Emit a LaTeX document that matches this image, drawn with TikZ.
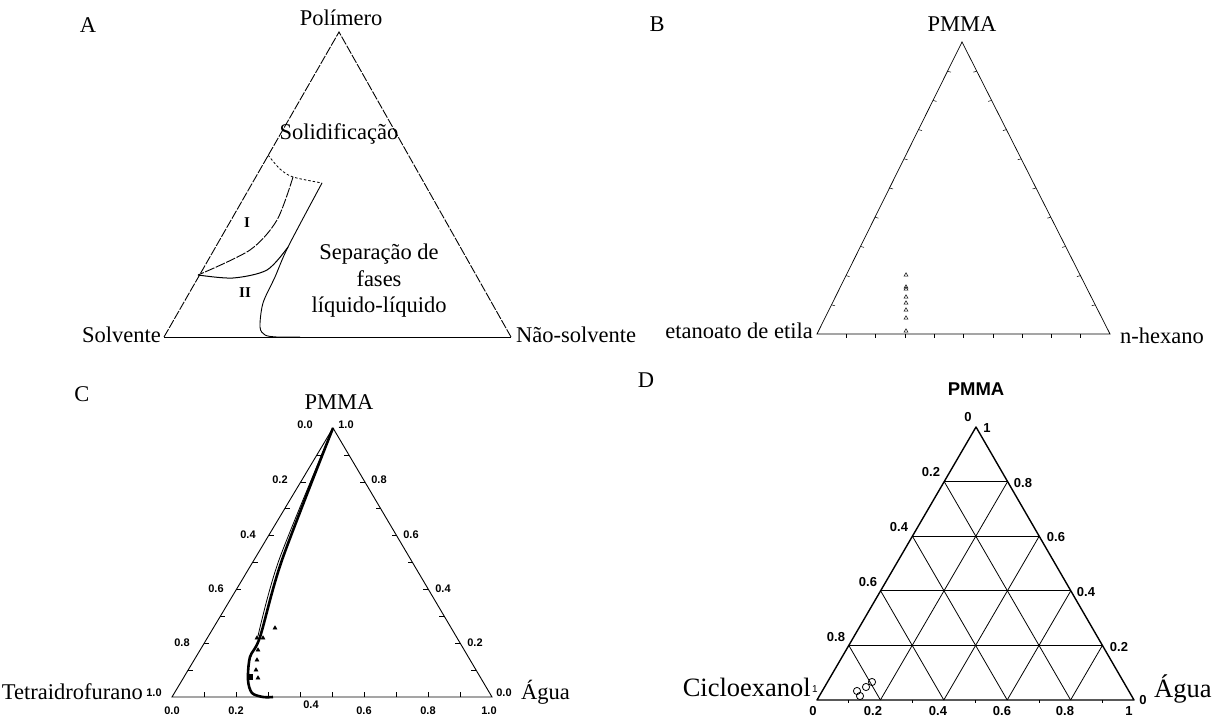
\documentclass[tikz,border=0pt]{standalone}
\usepackage{fontspec}
\setmainfont{Liberation Serif}
\newfontfamily\numsans{Liberation Sans}
\usetikzlibrary{calc,shapes.geometric}

\tikzset{
  txt/.style={inner sep=0pt,font=\fontsize{22.5}{26}\selectfont},
  bigtxt/.style={inner sep=0pt,font=\fontsize{26.5}{30}\selectfont},
  roman/.style={inner sep=0pt,font=\bfseries\fontsize{15}{17}\selectfont},
  cnum/.style={inner sep=0pt,font=\numsans\bfseries\fontsize{11}{13}\selectfont},
  dnum/.style={inner sep=0pt,font=\numsans\bfseries\fontsize{13}{15}\selectfont},
  axis/.style={line width=0.9pt},
  tri/.style={regular polygon,regular polygon sides=3,draw,inner sep=0pt,
    minimum size=4.5pt,line width=0.5pt},
  ftri/.style={tri,fill},
}

\begin{document}
\begin{tikzpicture}[x=1pt,y=-1pt]
  \useasboundingbox (0,0) rectangle (1220,719);

  % A
  \coordinate (aT) at (339,32);
  \coordinate (aL) at (164,337);
  \coordinate (aR) at (511,337);
  \draw [axis,dash pattern=on 9pt off 1.5pt] (aL) -- (aT) -- (aR);
  \draw [axis] (aL) -- (aR);

  \node [txt,anchor=base] (labA) at (88,33) {A};
  \node [txt,anchor=base] (polimero) at (341,26) {Polímero};
  \node [txt,anchor=base east] (solvente) at (161,342) {Solvente};
  \node [txt,anchor=base west] (naosolv) at (516,342) {Não-solvente};
  \node [txt,anchor=base] (solid) at (339,140) {Solidificação};
  \node [txt,anchor=base] (sep1) at (379,260) {Separação de};
  \node [txt,anchor=base] (sep2) at (379,287) {fases};
  \node [txt,anchor=base] (sep3) at (379,312) {líquido-líquido};
  \node [roman,anchor=base] (regI) at (247,228) {I};
  \node [roman,anchor=base] (regII) at (245,297) {II};

  \coordinate (s0) at (268,155);
  \coordinate (s1) at (293,177);
  \coordinate (s2) at (322,183);
  \coordinate (v0) at (198,275);
  \coordinate (v1) at (288,247);

  \draw [line width=0.8pt,dash pattern=on 2.5pt off 2pt]
    plot [smooth] coordinates {(s0) (280,169) (s1) (s2)};
  \draw [line width=0.9pt,dash pattern=on 10pt off 1.5pt]
    plot [smooth] coordinates {(s1) (277,220) (250,250) (v0)};
  \draw [line width=1pt]
    plot [smooth] coordinates {(v0) (233,278) (267,270) (v1)};
  \draw [line width=0.9pt]
    plot [smooth] coordinates {(s2) (v1) (275,277) (263,303) (260,327) (265,335) (277,337) (300,337)};

  % B
  \coordinate (bT) at (962,42);
  \coordinate (bL) at (817,334);
  \coordinate (bR) at (1110,334);
  \draw [line width=0.7pt] (bL) -- (bT) -- (bR) -- cycle;
  \foreach \k in {1,...,9} {
    \draw [line width=0.5pt] ($(bL)!\k/10!(bR)$) -- ++(0,4);
    \draw [line width=0.5pt] ($(bL)!\k/10!(bT)$) -- ++(3.5,1);
    \draw [line width=0.5pt] ($(bR)!\k/10!(bT)$) -- ++(-3.5,1);
  }

  \node [txt,anchor=base] (labB) at (657,32) {B};
  \node [txt,anchor=base] (pmmaB) at (962,32) {PMMA};
  \node [txt,anchor=base east] (etila) at (813,338) {etanoato de etila};
  \node [txt,anchor=base west] (hexano) at (1120,343) {n-hexano};

  \foreach \y in {275,287,289,297,303,310,318,331}
    \node [tri] at (906,\y) {};

  % C
  \coordinate (cT) at (333,428);
  \coordinate (cL) at (172,697);
  \coordinate (cR) at (492,697);
  \draw [axis] (cL) -- (cT) -- (cR) -- cycle;
  \foreach \k in {1,...,9} {
    \draw [line width=0.6pt] ($(cL)!\k/10!(cR)$) -- ++(0,-5);
    \draw [line width=0.6pt] ($(cT)!\k/10!(cL)$) -- ++(5,0);
    \draw [line width=0.6pt] ($(cT)!\k/10!(cR)$) -- ++(-5,0);
  }
  \foreach \v/\x/\y in {0.0/305/425,0.2/280/480,0.4/248/535,0.6/216/589,0.8/182/643,1.0/154/693}
    \node [cnum] at (\x,\y) {\v};
  \foreach \v/\x/\y in {1.0/346/425,0.8/379/480,0.6/411/535,0.4/443/589,0.2/475/643,0.0/504/693}
    \node [cnum] at (\x,\y) {\v};
  \foreach \v/\x/\y in {0.0/172/711,0.2/236/711,0.4/311/705,0.6/364/711,0.8/428/711,1.0/489/711}
    \node [cnum] at (\x,\y) {\v};

  \node [txt,anchor=base] (labC) at (82,401) {C};
  \node [txt,anchor=base] (pmmaC) at (339,409) {PMMA};
  \node [txt,anchor=base east] (thf) at (143,699) {Tetraidrofurano};
  \node [txt,anchor=base west] (aguaC) at (521,699) {Água};

  \draw [line width=0.8pt] plot [smooth] coordinates {(cT) (279,560) (258,636)};
  \draw [line width=2.6pt,line join=round]
    plot [smooth] coordinates {(cT) (282,560) (260,637) (250,657) (248,680) (252,693) (263,697) (273,697)};
  \foreach \x/\y in {275/628,263/638,257/638,258/650,257/660,256/670,258/678}
    \node [ftri] at (\x,\y) {};
  \fill (247,674) rectangle (253,680);

  % D
  \coordinate (dT) at (976,427);
  \coordinate (dL) at (817,700);
  \coordinate (dR) at (1134,700);
  \foreach \k in {1,...,4} {
    \draw [line width=0.8pt] ($(dL)!\k/5!(dT)$) -- ($(dR)!\k/5!(dT)$);
    \draw [line width=0.8pt] ($(dL)!\k/5!(dR)$) -- ($(dT)!\k/5!(dR)$);
    \draw [line width=0.8pt] ($(dR)!\k/5!(dL)$) -- ($(dT)!\k/5!(dL)$);
  }
  \foreach \k in {1,3,5,7,9}
    \draw [line width=0.6pt] ($(dL)!\k/10!(dR)$) -- ++(0,3);
  \draw [line width=1.4pt,line join=round] (dL) -- (dT) -- (dR) -- cycle;

  \foreach \v/\x/\y in {0.2/931/472,0.4/899/527,0.6/868/582,0.8/836/637}
    \node [dnum] at (\x,\y) {\v};
  \foreach \v/\x/\y in {0.8/1023/483,0.6/1056/537,0.4/1086/592,0.2/1119/647,0/1143/700}
    \node [dnum] at (\x,\y) {\v};
  \foreach \v/\x/\y in {0/813/711,0.2/873/711,0.4/938/711,0.6/1002/711,0.8/1065/711,1/1129/711}
    \node [dnum] at (\x,\y) {\v};
  \node [dnum] at (968,417) {0};
  \node [dnum] at (987,428) {1};
  \node [dnum,font=\numsans\fontsize{10}{11}\selectfont] at (815,689) {1};

  \node [txt,anchor=base] (labD) at (646,387) {D};
  \node [inner sep=0pt,anchor=base,font=\numsans\bfseries\fontsize{18.5}{20}\selectfont]
    (pmmaD) at (976,395) {PMMA};
  \node [bigtxt,anchor=base east] (ciclo) at (811,696) {Cicloexanol};
  \node [bigtxt,anchor=base west] (aguaD) at (1154,697) {Água};

  \foreach \x/\y in {857/691,860/696,866/687,872/682}
    \draw [line width=0.8pt] (\x,\y) circle (3.6pt);
\end{tikzpicture}
\end{document}
